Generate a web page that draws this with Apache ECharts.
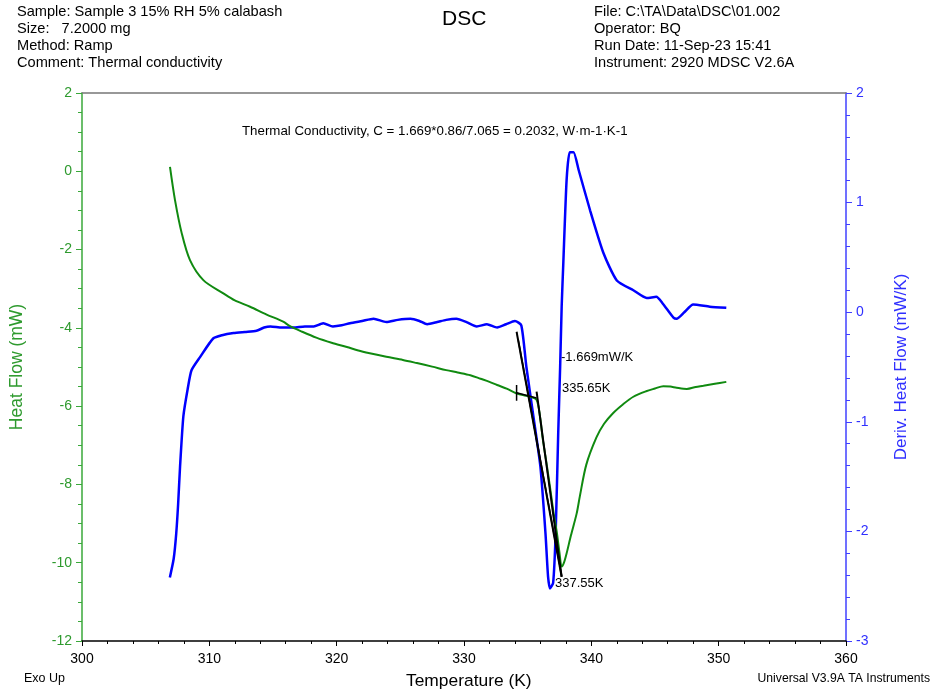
<!DOCTYPE html>
<html><head><meta charset="utf-8">
<script src="https://cdn.jsdelivr.net/npm/echarts@6/dist/echarts.min.js"></script>
<style>html,body{margin:0;padding:0;background:#fff}#c{width:932px;height:694px}</style>
</head><body><div id="c"></div>
<script>
// ---- data ----
const heatT = [306.91,307.3,307.83,308.48,309.53,311.1,312.0,313.2,314.5,315.8,316.3,317.3,318.4,319.6,320.8,321.7,322.6,323.9,325.2,326.3,327.5,328.6,329.5,330.5,331.3,332.0,332.6,333.4,334.1,334.7,335.2,335.7,335.97,336.2,336.5,336.75,337.0,337.3,337.5,337.67,337.85,338.06,338.4,338.85,339.1,339.6,340.4,341.0,341.7,342.5,343.3,344.3,345.0,345.65,346.2,346.7,347.5,348.2,348.8,349.7,350.6];
const heatFlow = [0.11,-0.73,-1.58,-2.27,-2.78,-3.12,-3.30,-3.46,-3.66,-3.84,-3.95,-4.10,-4.25,-4.38,-4.49,-4.58,-4.65,-4.74,-4.82,-4.90,-4.99,-5.08,-5.14,-5.21,-5.30,-5.38,-5.46,-5.56,-5.67,-5.72,-5.76,-5.84,-6.27,-6.87,-7.50,-8.06,-8.65,-9.25,-9.75,-10.1,-10.0,-9.76,-9.3,-8.74,-8.3,-7.5,-6.8,-6.45,-6.18,-5.95,-5.76,-5.62,-5.55,-5.49,-5.50,-5.53,-5.56,-5.51,-5.48,-5.43,-5.38];
const derivT = [306.9,307.2,307.4,307.55,307.7,307.96,308.3,308.6,309.27,310.3,311.0,311.9,312.8,313.7,314.3,314.8,315.7,316.6,317.5,318.2,318.7,318.95,319.7,320.4,321.05,322.0,322.9,323.9,324.8,325.8,326.5,327.1,327.9,328.6,329.4,330.2,331.0,331.8,332.6,333.3,334.0,334.5,334.9,335.45,336.0,336.4,336.6,336.75,337.0,337.2,337.4,337.55,337.67,337.8,338.06,338.3,338.6,339.0,339.9,340.95,342.0,343.3,344.35,345.1,345.6,346.45,346.7,347.3,348.0,349.3,350.6];
const derivHF = [-2.42,-2.25,-2.02,-1.75,-1.41,-0.95,-0.70,-0.53,-0.41,-0.24,-0.21,-0.19,-0.18,-0.17,-0.14,-0.13,-0.14,-0.14,-0.13,-0.13,-0.11,-0.10,-0.13,-0.12,-0.10,-0.08,-0.06,-0.09,-0.07,-0.06,-0.08,-0.11,-0.09,-0.07,-0.06,-0.09,-0.13,-0.11,-0.14,-0.11,-0.08,-0.12,-0.50,-0.95,-1.41,-2.02,-2.41,-2.52,-2.47,-2.01,-1.10,-0.50,0.05,0.45,1.21,1.46,1.46,1.30,0.93,0.54,0.29,0.20,0.13,0.14,0.08,-0.05,-0.06,0.00,0.07,0.05,0.04];
// analysis construction lines (temperature, heat flow)
const tangent1T = [334.13,337.67], tangent1HF = [-4.10,-10.36];
const tangent2T = [334.26,337.54], tangent2HF = [-4.31,-10.10];
const baseT = [334.13,335.70], baseHF = [-5.66,-5.79];
const tick1T = [334.13,334.13], tick1HF = [-5.46,-5.86];
const onsetT = [335.70,337.67], onsetHF = [-5.63,-10.36];

const zip = (a,b)=>a.map((v,i)=>[v,b[i]]);
const chart = echarts.init(document.getElementById('c'), null, {renderer:'canvas'});
const F = 'Liberation Sans, Arial, sans-serif';
const green = '#3aa83a', blue = '#4040ff';
const blackLine = (t,h,w)=>({type:'line',xAxisIndex:0,yAxisIndex:0,data:zip(t,h),symbol:'none',lineStyle:{color:'#000',width:w},silent:true,z:5});
const txt = (x,y,s,size,extra)=>Object.assign({type:'text',left:x,top:y,style:{text:s,font:size+'px '+F,fill:'#000'}},extra||{});

chart.setOption({
  animation:false,
  grid:{left:82,right:86,top:93,bottom:53,containLabel:false,outerBoundsMode:'none'},
  xAxis:[{type:'value',min:300,max:360,interval:10,position:'bottom',
    axisLine:{onZero:false,lineStyle:{color:'#000',width:1.5}},
    axisTick:{show:true,length:5,lineStyle:{color:'#000'}},
    minorTick:{show:true,splitNumber:5,length:3,lineStyle:{color:'#000'}},
    axisLabel:{color:'#000',fontSize:14,fontFamily:F,margin:11},
    splitLine:{show:false}},
   {type:'value',min:300,max:360,position:'top',axisLine:{show:true,onZero:false,lineStyle:{color:'#777',width:1.5}},axisTick:{show:false},axisLabel:{show:false},splitLine:{show:false}}],
  yAxis:[{type:'value',min:-12,max:2,interval:2,position:'left',
    name:'Heat Flow (mW)',nameLocation:'middle',nameGap:56,nameTextStyle:{color:'#2e9a2e',fontSize:17.5,fontFamily:F},
    axisLine:{show:true,lineStyle:{color:green,width:1.5}},
    axisTick:{show:true,length:6,lineStyle:{color:green}},
    minorTick:{show:true,splitNumber:4,length:4,lineStyle:{color:green}},
    axisLabel:{color:'#2e9a2e',fontSize:14,fontFamily:F,margin:10},
    splitLine:{show:false}},
   {type:'value',min:-3,max:2,interval:1,position:'right',
    name:'Deriv. Heat Flow (mW/K)',nameLocation:'middle',nameGap:47,nameRotate:90,nameTextStyle:{color:'#3030ff',fontSize:17,fontFamily:F},
    axisLine:{show:true,lineStyle:{color:blue,width:1.5}},
    axisTick:{show:true,length:6,lineStyle:{color:blue}},
    minorTick:{show:true,splitNumber:5,length:4,lineStyle:{color:blue}},
    axisLabel:{color:'#3030ff',fontSize:14,fontFamily:F,margin:10},
    splitLine:{show:false}}],
  series:[
    {type:'line',xAxisIndex:0,yAxisIndex:1,data:zip(derivT,derivHF),symbol:'none',smooth:0.2,lineStyle:{color:'#0000ff',width:2.5},z:3},
    {type:'line',xAxisIndex:0,yAxisIndex:0,data:zip(heatT,heatFlow),symbol:'none',smooth:0.3,lineStyle:{color:'#108a10',width:2},z:4},
    blackLine(tangent1T,tangent1HF,2),
    blackLine(tangent2T,tangent2HF,1.5),
    blackLine(baseT,baseHF,1.5),
    blackLine(tick1T,tick1HF,1.5),
    blackLine(onsetT,onsetHF,2)
  ],
  graphic:[
    txt(17,4,'Sample: Sample 3 15% RH 5% calabash',14.6),
    txt(17,21,'Size:   7.2000 mg',14.6),
    txt(17,38,'Method: Ramp',14.6),
    txt(17,55,'Comment: Thermal conductivity',14.6),
    txt(442,9,'DSC',21),
    txt(594,4,'File: C:\\TA\\Data\\DSC\\01.002',14.6),
    txt(594,21,'Operator: BQ',14.6),
    txt(594,38,'Run Date: 11-Sep-23 15:41',14.6),
    txt(594,55,'Instrument: 2920 MDSC V2.6A',14.6),
    txt(242,125,'Thermal Conductivity, C = 1.669*0.86/7.065 = 0.2032, W·m-1·K-1',13.3),
    txt(561,351,'-1.669mW/K',13),
    txt(562,382,'335.65K',13),
    txt(555,577,'337.55K',13),
    txt(24,672,'Exo Up',12.5),
    txt(406,673,'Temperature (K)',17.4),
    {type:'text',right:2,top:673,style:{text:'Universal V3.9A TA Instruments',font:'12.2px '+F,fill:'#000'}}
  ]
});
</script></body></html>
